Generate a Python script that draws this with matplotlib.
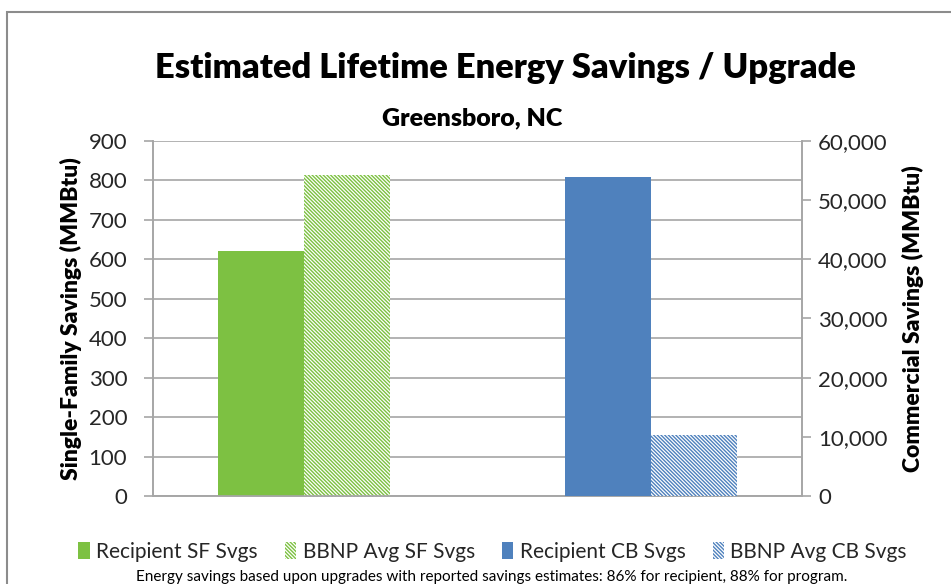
import matplotlib

matplotlib.use("Agg")

import matplotlib.pyplot as plt
import numpy as np
from matplotlib.patches import Patch
from matplotlib.ticker import FuncFormatter, MultipleLocator

plt.rcParams["font.family"] = ["Lato", "DejaVu Sans"]
plt.rcParams["hatch.linewidth"] = 1.0

# Data (MMBtu)
groups = ["Single-Family", "Commercial"]
sf_series = ["Recipient SF Svgs", "BBNP Avg SF Svgs"]
sf_values = [621, 814]
cb_series = ["Recipient CB Svgs", "BBNP Avg CB Svgs"]
cb_values = [53900, 10300]

GREEN = "#7dc142"
BLUE = "#4f81bd"
GRID = "#a6a6a6"
TEXT = "#262626"
HATCH = "\\" * 9

fig = plt.figure(figsize=(9.51, 5.84), dpi=100)
ax = fig.add_axes([0.1609, 0.1507, 0.6824, 0.6079])
ax2 = ax.twinx()

width = 0.248
x = np.arange(len(groups))

# single-family on primary axis (first group)
ax.bar(x[0] - width / 2, sf_values[0], width, color=GREEN, zorder=3)
ax.bar(x[0] + width / 2, sf_values[1], width, color="white",
       edgecolor=GREEN, hatch=HATCH, linewidth=0, zorder=3)

# commercial on secondary axis (second group)
ax2.bar(x[1] - width / 2, cb_values[0], width, color=BLUE, zorder=3)
ax2.bar(x[1] + width / 2, cb_values[1], width, color="white",
        edgecolor=BLUE, hatch=HATCH, linewidth=0, zorder=3)

ax.set_xlim(-0.435, 1.435)
ax.set_ylim(0, 900)
ax2.set_ylim(0, 60000)
ax.yaxis.set_major_locator(MultipleLocator(100))
ax2.yaxis.set_major_locator(MultipleLocator(10000))
ax2.yaxis.set_major_formatter(FuncFormatter(lambda v, p: f"{int(v):,}"))

ax.set_xticks([])
ax.grid(axis="y", color=GRID, linewidth=1.2, zorder=0)
ax.set_axisbelow(True)

for a, pad in ((ax, 12), (ax2, 5)):
    a.spines["top"].set_visible(False)
    for s in ("left", "right", "bottom"):
        a.spines[s].set_color(GRID)
        a.spines[s].set_linewidth(1.2)
    a.tick_params(axis="y", colors=GRID, labelcolor=TEXT, labelsize=16,
                  length=6.5, width=1.2, pad=pad)

ax.set_ylabel("Single-Family Savings (MMBtu)", fontsize=16.5, fontweight="heavy",
              color="black", labelpad=5)
ax2.set_ylabel("Commercial Savings (MMBtu)", fontsize=16.5, fontweight="heavy",
               color="black", labelpad=10)

fig.text(0.531, 0.884, "Estimated Lifetime Energy Savings / Upgrade",
         ha="center", va="center", fontsize=24.8, fontweight="heavy")
fig.text(0.497, 0.798, "Greensboro, NC", ha="center", va="center",
         fontsize=18, fontweight="heavy")

handles = [
    Patch(facecolor=GREEN, label=sf_series[0]),
    Patch(facecolor="white", edgecolor=GREEN, hatch=HATCH, linewidth=0, label=sf_series[1]),
    Patch(facecolor=BLUE, label=cb_series[0]),
    Patch(facecolor="white", edgecolor=BLUE, hatch=HATCH, linewidth=0, label=cb_series[1]),
]
fig.legend(handles=handles, loc="center", bbox_to_anchor=(0.518, 0.055), ncol=4,
           frameon=False, fontsize=15, handlelength=0.55, handleheight=0.85,
           handletextpad=0.3, columnspacing=1.3, labelcolor=TEXT)

fig.text(0.517, 0.012,
         "Energy savings based upon upgrades with reported savings estimates: 86% for recipient, 88% for program.",
         ha="center", va="center", fontsize=11)

# chart-area border
fig.patches.append(plt.Rectangle((0.007, -0.05), 1.1, 1.029, transform=fig.transFigure,
                                 fill=False, edgecolor="#8c8c8c", linewidth=1.5))

fig.savefig("out.png", dpi=100)
